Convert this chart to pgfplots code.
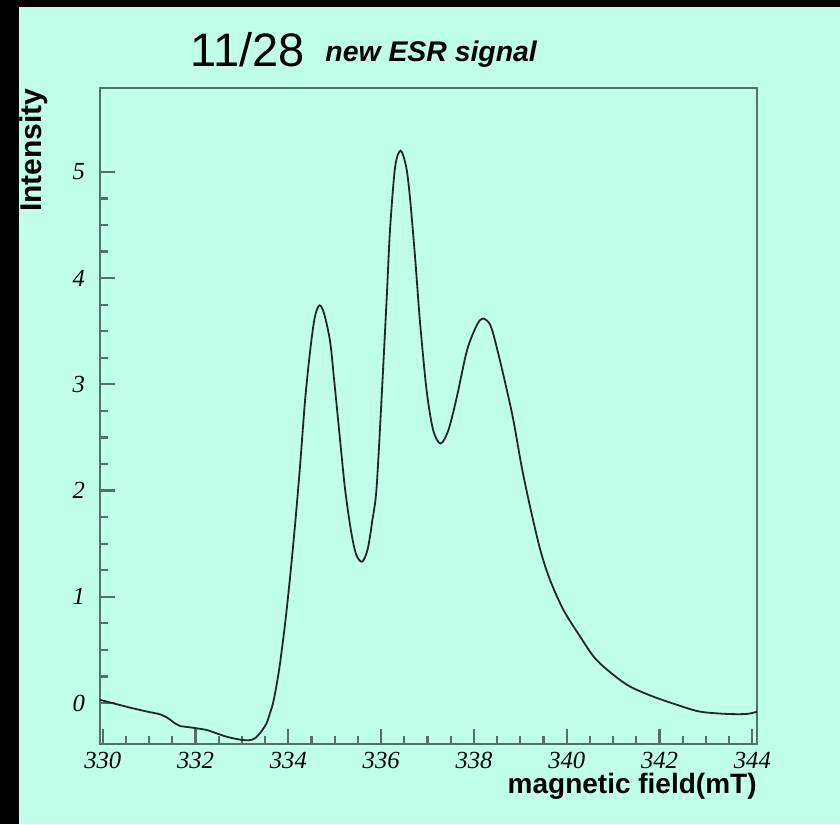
\documentclass[border=0pt]{standalone}
\usepackage{pgfplots}
\pgfplotsset{compat=1.18}
\usepackage{fontspec}
\setmainfont{Liberation Serif}
\newfontfamily\arial{Liberation Sans}
\definecolor{mint}{RGB}{192,255,233}
\definecolor{axiscol}{RGB}{80,115,102}
\begin{document}
\begin{tikzpicture}
\useasboundingbox (0,0) rectangle (420pt,-412pt);
\fill[mint] (0,0) rectangle (420pt,-412pt);
\begin{axis}[
  at={(50pt,-44pt)}, anchor=north west,
  scale only axis, width=328.5pt, height=328pt,
  xmin=329.94, xmax=344.1, ymin=-0.386, ymax=5.79,
  xtick={330,332,...,344}, ytick={0,1,...,5},
  minor x tick num=3, minor y tick num=3,
  tick align=inside, tick pos=left,
  major tick length=7.5pt, minor tick length=4.2pt,
  axis line style={draw=axiscol, line width=1.4pt},
  every tick/.style={draw=axiscol, line width=1.1pt},
  /pgf/number format/assume math mode=true,
  ticklabel style={font=\fontsize{12.3}{14}\selectfont\itshape},
  yticklabel style={xshift=-4pt},
  xticklabel style={yshift=-0.5pt},
  axis background/.style={fill=mint},
]
\addplot[black!85, line width=0.9pt, smooth, tension=0.5] coordinates {
(329.94,0.03) (330.20,0.00) (330.65,-0.05) (331.00,-0.085) (331.23,-0.106)
(331.41,-0.144) (331.55,-0.19) (331.66,-0.216) (331.88,-0.229) (332.05,-0.24)
(332.24,-0.254) (332.45,-0.285) (332.65,-0.315) (332.81,-0.332) (333.00,-0.348)
(333.10,-0.351) (333.22,-0.345) (333.32,-0.317) (333.43,-0.26) (333.53,-0.191)
(333.60,-0.10) (333.67,0.0) (333.75,0.18) (333.82,0.373) (333.93,0.75)
(334.03,1.157) (334.14,1.659) (334.25,2.223) (334.36,2.85) (334.47,3.32)
(334.57,3.634) (334.67,3.744) (334.77,3.666) (334.90,3.40) (335.00,2.98)
(335.10,2.54) (335.22,2.02) (335.35,1.62) (335.46,1.40) (335.59,1.33)
(335.71,1.45) (335.81,1.72) (335.90,2.02) (336.01,2.88) (336.12,3.82)
(336.19,4.45) (336.30,5.045) (336.42,5.20) (336.54,5.045) (336.62,4.76)
(336.73,4.20) (336.84,3.57) (336.98,2.94) (337.12,2.57) (337.28,2.443)
(337.45,2.57) (337.63,2.88) (337.85,3.32) (338.06,3.556) (338.19,3.62)
(338.35,3.56) (338.49,3.35) (338.71,2.944) (338.85,2.66) (339.03,2.22)
(339.21,1.846) (339.43,1.44) (339.64,1.157) (339.93,0.875) (340.29,0.624)
(340.61,0.42) (341.01,0.263) (341.37,0.153) (341.87,0.059) (342.45,-0.028)
(342.88,-0.082) (343.45,-0.103) (343.88,-0.103) (344.10,-0.082)
};
\end{axis}
\node[anchor=base west, inner sep=0pt, font=\arial\fontsize{23.5}{27}\selectfont] at (95pt,-33.5pt) {11/28};
\node[anchor=base west, inner sep=0pt, font=\arial\bfseries\itshape\fontsize{14.2}{17}\selectfont] at (162.5pt,-31pt) {new ESR signal};
\node[anchor=base east, inner sep=0pt, font=\arial\bfseries\fontsize{14}{17}\selectfont] at (378.5pt,-396.5pt) {magnetic field(mT)};
\node[anchor=base east, inner sep=0pt, rotate=90, font=\arial\bfseries\fontsize{15}{18}\selectfont] at (20.5pt,-44pt) {Intensity};
\fill[black] (0,0) rectangle (9.5pt,-412pt);
\fill[black] (0,0) rectangle (420pt,-3.5pt);
\end{tikzpicture}
\end{document}
